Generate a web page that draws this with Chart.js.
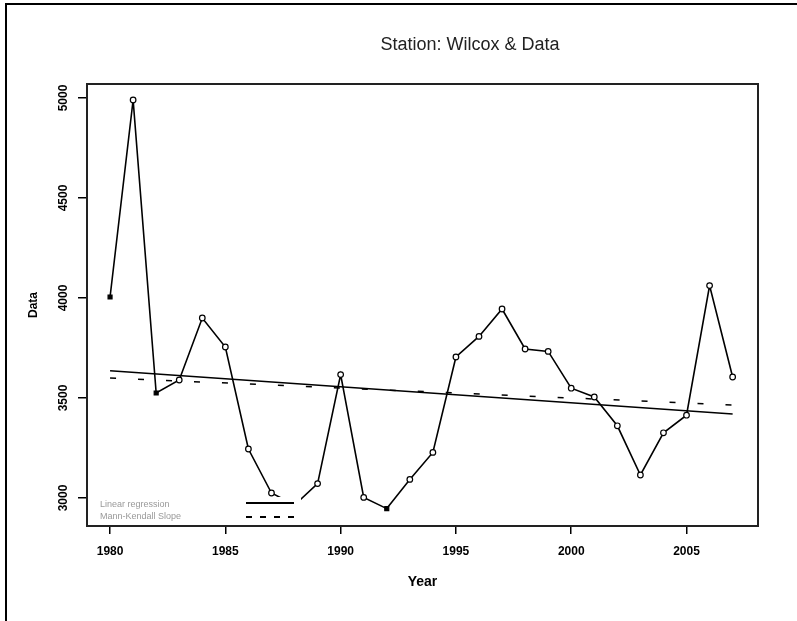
<!DOCTYPE html>
<html>
<head>
<meta charset="utf-8">
<script src="https://cdn.jsdelivr.net/npm/chart.js@4/dist/chart.umd.min.js"></script>
<style>
  html, body { margin: 0; padding: 0; background: #fff; }
  canvas { display: block; }
</style>
</head>
<body>
<canvas id="c" width="797" height="621"></canvas>
<script>
// ---- data ----
const years = [1980,1981,1982,1983,1984,1985,1986,1987,1988,1989,1990,1991,1992,1993,1994,1995,1996,1997,1998,1999,2000,2001,2002,2003,2004,2005,2006,2007];
const values = [4005,4990,3525,3590,3900,3755,3245,3025,2965,3072,3617,3003,2947,3093,3228,3705,3808,3945,3745,3733,3549,3505,3361,3115,3326,3414,4062,3605];
const trendYears = [1980, 2007];
const regressionValues = [3636, 3420];
const mannKendallValues = [3600, 3465];
const xTickValues = [1980,1985,1990,1995,2000,2005];
const yTickValues = [3000,3500,4000,4500,5000];
const legendLabels = ['Linear regression', 'Mann-Kendall Slope'];
const titleText = 'Station: Wilcox & Data';
const xTitle = 'Year';
const yTitle = 'Data';

Chart.defaults.font.family = "'Liberation Sans', Arial, sans-serif";
Chart.defaults.color = '#000';

const pts = (xs, ys) => xs.map((x, i) => ({x: x, y: ys[i]}));
const pointStyles = years.map((y, i) => (i === 0 || i === 2 || i === 12) ? 'rect' : 'circle');
const pointFills = years.map((y, i) => (i === 0 || i === 2 || i === 12) ? '#000' : '#fff');

const decor = {
  id: 'decor',
  beforeDraw(chart) {
    const ctx = chart.ctx;
    ctx.save();
    ctx.fillStyle = '#fff';
    ctx.fillRect(0, 0, chart.width, chart.height);
    ctx.strokeStyle = '#000';
    ctx.lineWidth = 2;
    ctx.beginPath();
    ctx.moveTo(6, chart.height);
    ctx.lineTo(6, 4);
    ctx.lineTo(chart.width, 4);
    ctx.stroke();
    // title
    ctx.fillStyle = '#222';
    ctx.font = "18px 'Liberation Sans', Arial, sans-serif";
    ctx.textAlign = 'center';
    ctx.textBaseline = 'middle';
    ctx.fillText(titleText, 470, 45);
    ctx.restore();
  },
  afterDatasetsDraw(chart) {
    const ctx = chart.ctx;
    const a = chart.chartArea;
    ctx.save();
    // legend box (white, covers data underneath)
    ctx.fillStyle = '#fff';
    ctx.fillRect(a.left + 1, a.bottom - 29, 213, 28);
    ctx.fillStyle = '#999';
    ctx.font = "9px 'Liberation Sans', Arial, sans-serif";
    ctx.textAlign = 'left';
    ctx.textBaseline = 'middle';
    ctx.fillText(legendLabels[0], a.left + 13, a.bottom - 21);
    ctx.fillText(legendLabels[1], a.left + 13, a.bottom - 9);
    ctx.strokeStyle = '#000';
    ctx.lineWidth = 2;
    ctx.beginPath();
    ctx.moveTo(a.left + 159, a.bottom - 23);
    ctx.lineTo(a.left + 207, a.bottom - 23);
    ctx.stroke();
    ctx.setLineDash([6, 8]);
    ctx.beginPath();
    ctx.moveTo(a.left + 159, a.bottom - 9);
    ctx.lineTo(a.left + 207, a.bottom - 9);
    ctx.stroke();
    ctx.setLineDash([]);
    // frame
    ctx.lineWidth = 2;
    ctx.strokeStyle = '#222';
    ctx.strokeRect(a.left, a.top, a.right - a.left, a.bottom - a.top);
    ctx.restore();
  }
};

new Chart(document.getElementById('c'), {
  type: 'scatter',
  data: {
    datasets: [
      {
        label: 'Regression',
        data: pts(trendYears, regressionValues),
        showLine: true,
        borderColor: '#000',
        borderWidth: 1.5,
        pointRadius: 0,
        order: 3
      },
      {
        label: 'Mann-Kendall',
        data: pts(trendYears, mannKendallValues),
        showLine: true,
        borderColor: '#000',
        borderWidth: 1.5,
        borderDash: [6, 22],
        pointRadius: 0,
        order: 2
      },
      {
        label: 'Data',
        data: pts(years, values),
        showLine: true,
        borderColor: '#000',
        borderWidth: 1.6,
        pointStyle: pointStyles,
        pointRadius: 2.8,
        pointBorderWidth: 1.2,
        pointBorderColor: '#000',
        pointBackgroundColor: pointFills,
        order: 1
      }
    ]
  },
  options: {
    responsive: false,
    animation: false,
    devicePixelRatio: 1,
    layout: { padding: { left: 0, top: 84, right: 39, bottom: 0 } },
    plugins: {
      legend: { display: false },
      title: { display: false },
      tooltip: { enabled: false }
    },
    scales: {
      x: {
        type: 'linear',
        min: 1979,
        max: 2008.1,
        afterBuildTicks: (s) => { s.ticks = xTickValues.map(v => ({value: v})); },
        afterFit: (s) => { s.height = 95; },
        grid: { drawOnChartArea: false, drawTicks: true, tickLength: 8, color: '#000', lineWidth: 1.5 },
        border: { display: false },
        ticks: {
          padding: 10,
          autoSkip: false,
          maxRotation: 0,
          font: { size: 12, weight: 'bold' },
          callback: (v) => String(v)
        },
        title: {
          display: true,
          text: xTitle,
          font: { size: 14, weight: 'bold' },
          padding: { top: 0, bottom: 30 }
        }
      },
      y: {
        type: 'linear',
        min: 2860,
        max: 5070,
        afterBuildTicks: (s) => { s.ticks = yTickValues.map(v => ({value: v})); },
        afterFit: (s) => { s.width = 87; },
        grid: { drawOnChartArea: false, drawTicks: true, tickLength: 9, color: '#000', lineWidth: 1.5 },
        border: { display: false },
        ticks: {
          padding: 1,
          minRotation: 90,
          maxRotation: 90,
          crossAlign: 'center',
          autoSkip: false,
          font: { size: 12, weight: 'bold' },
          callback: (v) => String(v)
        },
        title: {
          display: true,
          text: yTitle,
          font: { size: 12, weight: 'bold' },
          padding: { top: 26, bottom: 0 }
        }
      }
    }
  },
  plugins: [decor]
});
</script>
</body>
</html>
